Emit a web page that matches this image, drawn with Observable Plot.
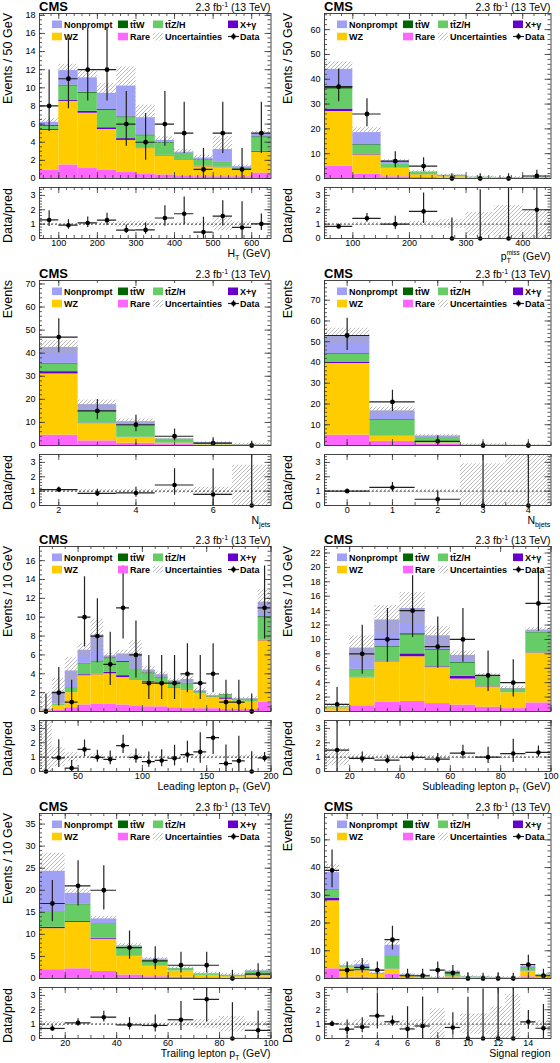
<!DOCTYPE html>
<html><head><meta charset="utf-8">
<script src="https://cdn.jsdelivr.net/npm/d3@7"></script>
<script src="https://cdn.jsdelivr.net/npm/@observablehq/plot@0.6"></script>
<style>
body{margin:0;background:#fff;}
#wrap{position:relative;width:560px;height:1063px;overflow:hidden;background:#fff;}
</style></head><body>
<svg width="0" height="0" style="position:absolute">
<defs>
<pattern id="hatch" patternUnits="userSpaceOnUse" width="4" height="4">
<path d="M-1,1 L1,-1 M0,4 L4,0 M3,5 L5,3" stroke="#aaa" stroke-width="0.8"/>
</pattern>
</defs></svg>
<div id="wrap"></div>
<script>
// ---------------- DATA ----------------
// H_T
const htEdges = [50,100,150,200,250,300,350,400,450,500,550,600,650];
const htRare = [0.9,1.5,1.1,0.9,0.7,0.5,0.4,0.3,0.2,0.2,0.2,0.6];
const htWZ   = [4.4,7.0,6.1,4.5,3.5,2.8,2.1,1.7,1.1,1.0,0.7,2.3];
const htXG   = [0.1,0.1,0.2,0.2,0.2,0.05,0.05,0.05,0.05,0.05,0,0.1];
const htTTZ  = [0.35,1.6,2.0,1.9,2.3,1.35,1.35,0.7,0.7,0.5,0.15,1.5];
const htTTW  = [0.1,0.1,0.1,0.1,0.1,0.1,0.1,0.05,0.05,0.05,0.05,0.1];
const htNP   = [0.35,1.6,1.6,1.8,3.4,1.9,0.2,0.1,0.15,1.4,0.2,0.3];
const htUnc  = [0.4,0.7,0.9,1.1,2.1,1.4,0.4,0.3,0.3,1.4,0.2,0.3];
const htData = [8,11,12,12,6,4,6,5,1,5,1,5];
// pT miss
const metEdges = [50,100,150,200,250,300,350,400,450];
const metRare = [5,1.7,0.7,0.4,0.2,0.1,0.05,0.1];
const metWZ   = [22,7.8,3.5,1.1,0.5,0.25,0.15,0.25];
const metXG   = [1,0.2,0.1,0.05,0.02,0,0,0];
const metTTZ  = [8,3.6,1.4,1.0,0.5,0.15,0.1,0.12];
const metTTW  = [1,0.3,0.1,0.05,0.04,0.02,0.02,0.02];
const metNP   = [7,4.9,1.2,0.05,0.04,0.03,0.03,0.01];
const metUnc  = [3,2,0.6,0.5,0.4,0.45,0.45,0.5];
const metData = [37,26,7,5,0,0,0,1];
// N jets
const njEdges = [1.5,2.5,3.5,4.5,5.5,6.5,7.5];
const njRare = [4.5,2,1,0.4,0.1,0.05];
const njWZ   = [26.5,7.5,2.5,0.6,0.2,0.05];
const njXG   = [1,0.2,0.1,0.05,0,0];
const njTTZ  = [3.3,5.0,4.8,1.6,0.6,0.15];
const njTTW  = [0.3,0.3,0.2,0.1,0.1,0.05];
const njNP   = [6.9,2.7,1.7,0.05,0.3,0.05];
const njUnc  = [3,2,1.2,0.4,0.35,0.63];
const njData = [47,15,9,4,1,0];
// N bjets
const nbEdges = [-0.5,0.5,1.5,2.5,3.5,4.5];
const nbRare = [5,2,0.8,0.05,0.02];
const nbWZ   = [34.5,2.5,0.4,0.05,0.03];
const nbXG   = [0.5,0.1,0.05,0,0];
const nbTTZ  = [4,7.6,2.45,0.1,0.03];
const nbTTW  = [0.3,0.3,0.1,0.03,0.01];
const nbNP   = [8.7,4.2,0.8,0.02,0.01];
const nbUnc  = [3.5,1.8,0.6,0.475,0.3];
const nbData = [53,21,2,0,0];
// Leading lepton pT
const lpEdges = [20,30,40,50,60,70,80,90,100,110,120,130,140,150,160,170,180,190,200];
const lpRare = [0.05,0.1,0.4,0.7,0.8,0.8,0.7,0.6,0.5,0.5,0.4,0.3,0.3,0.3,0.2,0.2,0.2,1.0];
const lpWZ   = [0.1,0.5,1.6,3.1,3.1,3.2,2.9,2.7,2.6,2.4,2.1,2.0,1.6,1.2,1.1,0.9,0.8,6.5];
const lpXG   = [0,0,0,0.1,0.05,0.15,0.2,0.05,0.1,0.05,0.05,0.05,0,0,0.15,0,0,0.05];
const lpTTZ  = [0.05,0.2,0.45,1.15,1.3,1.45,1.4,1.1,0.8,0.6,0.6,0.6,0.15,0.05,0.3,0.15,0.25,2.4];
const lpTTW  = [0,0,0.05,0.05,0.1,0.1,0.1,0.05,0.1,0.05,0.05,0.05,0.05,0.05,0.05,0.05,0.05,0.1];
const lpNP   = [0.05,1.3,1.8,1.4,2.75,0.2,0.8,1.6,0.3,0.3,0.05,0.4,0.1,0.1,0,0.05,0.05,1.55];
const lpUnc  = [1.8,1.4,1.4,0.7,1.7,0.3,0.4,1.4,0.4,0.3,0.25,0.4,0.3,0.2,0.15,0.15,0.2,1.3];
const lpData = [0,2,1,10,8,5,11,6,3,3,3,4,3,4,1,1,0,11];
// Subleading lepton pT
const slEdges = [10,20,30,40,50,60,70,80,90,100];
const slRare = [0.05,0.8,1.3,1.4,1.1,0.9,0.6,0.4,1.2];
const slWZ   = [0.45,3.9,5.6,6.2,5.0,3.6,2.8,2.2,6.9];
const slXG   = [0,0.05,0.1,0.4,0.1,0.4,0.05,0,0.05];
const slTTZ  = [0.15,1.05,1.9,2.6,2.3,1.8,1.4,0.5,2.75];
const slTTW  = [0.02,0.05,0.1,0.2,0.1,0.1,0.05,0.05,0.1];
const slNP   = [0,2.95,3.7,3.5,1.9,1.0,0.1,0.05,0.3];
const slUnc  = [0.4,1.7,2.0,2.2,1.3,0.6,0.25,0.3,0.35];
const slData = [1,8,10,14,9,10,5,4,15];
// Trailing lepton pT
const tlEdges = [10,20,30,40,50,60,70,80,90,100];
const tlRare = [2.0,2.2,1.6,0.8,0.4,0.3,0.2,0.1,0.3];
const tlWZ   = [9.3,10.5,7.3,4.2,2.4,1.4,0.5,0.3,0.5];
const tlXG   = [0.3,0.2,0.2,0.05,0.05,0,0,0,0];
const tlTTZ  = [3.4,3.8,3.2,2.1,1.3,0.5,0.3,0.3,0.8];
const tlTTW  = [0.1,0.1,0.1,0.05,0.05,0.05,0.03,0.02,0.05];
const tlNP   = [9.2,2.5,1.1,0.2,0.2,0.05,0.07,0.03,0.1];
const tlUnc  = [4.1,1.0,0.6,0.5,0.35,0.35,0.35,0.4,0.3];
const tlData = [17,21,20,7,4,3,3,0,1];
// Signal regions
const srEdges = [0.5,1.5,2.5,3.5,4.5,5.5,6.5,7.5,8.5,9.5,10.5,11.5,12.5,13.5,14.5,15.5];
const srRare = [3.5,0.5,0.5,0.3,1.5,0.3,0.2,0.1,0.3,0.1,0.1,0.05,0.05,0.6,0.3];
const srWZ   = [24.5,3.5,2.3,1.2,1.8,0.6,0.3,0.1,0.3,0.2,0.1,0.05,0.05,2.0,0.5];
const srXG   = [1,0.05,0.4,0.05,0.1,0.05,0.05,0,0.05,0,0,0,0,0.1,0];
const srTTZ  = [2.8,0.35,0.7,0.15,4.7,0.25,0.25,0.1,1.75,0.2,0.25,0.15,0.08,1.2,0.45];
const srTTW  = [0.2,0.05,0.1,0.05,0.1,0.05,0.05,0.02,0.1,0.05,0.05,0.03,0.02,0.1,0.05];
const srNP   = [6.2,0.15,1.0,0.15,3.8,0.25,0.3,0.03,0.1,0.1,0.05,0.07,0.05,0.3,0.1];
const srUnc  = [3,0.6,1.5,0.3,1.5,0.4,0.35,0.37,0.3,0.45,0.4,0.42,0.52,0.4,0.35];
const srData = [39,3,4,3,14,1,1,3,2,0,0,0,0,5,1];

// ---------------- STYLE / LAYOUT ----------------
const FONT = '"Liberation Sans", Arial, Helvetica, sans-serif';
const COL = {np:"#a0a0f5", ttw:"#006600", ttz:"#66cc66", xg:"#6600cc", wz:"#ffcc00", rare:"#ff66ff"};
const KEYS = ["rare","wz","xg","ttz","ttw","np"];
const W = 280, MAIN_H = 180, RATIO_H = 86, MT = 13, MB = 2, RT = 7, RB = 28, MR = 9.5;
const ROWH = 266.5;

const PANELS = [
 {col:0,row:0,edges:htEdges,rare:htRare,wz:htWZ,xg:htXG,ttz:htTTZ,ttw:htTTW,np:htNP,unc:htUnc,data:htData,
  xDomain:[50,650],xMajor:[100,200,300,400,500,600],xMinorStep:20,yMax:18.2,yStep:2,yMinorStep:0.5,
  ytitle:"Events / 50 GeV",xtitle:[["H"],["T","sub"],[" (GeV)"]],xtitleY:76.5},
 {col:1,row:0,edges:metEdges,rare:metRare,wz:metWZ,xg:metXG,ttz:metTTZ,ttw:metTTW,np:metNP,unc:metUnc,data:metData,
  xDomain:[50,450],xMajor:[100,200,300,400],xMinorStep:20,yMax:66.5,yStep:10,yMinorStep:2,
  ytitle:"Events / 50 GeV",xtitle:[["p"],["T","sub"],["miss","supover"],[" (GeV)"]],xtitleY:79.5},
 {col:0,row:1,edges:njEdges,rare:njRare,wz:njWZ,xg:njXG,ttz:njTTZ,ttw:njTTW,np:njNP,unc:njUnc,data:njData,
  xDomain:[1.5,7.5],xMajor:[2,4,6],xMinorStep:1,yMax:71.5,yStep:10,yMinorStep:2,
  ytitle:"Events",xtitle:[["N"],["jets","sub"]],xtitleY:76.5},
 {col:1,row:1,edges:nbEdges,rare:nbRare,wz:nbWZ,xg:nbXG,ttz:nbTTZ,ttw:nbTTW,np:nbNP,unc:nbUnc,data:nbData,
  xDomain:[-0.5,4.5],xMajor:[0,1,2,3,4],xMinorStep:0.5,yMax:79.5,yStep:10,yMinorStep:2,
  ytitle:"Events",xtitle:[["N"],["bjets","sub"]],xtitleY:76.5},
 {col:0,row:2,edges:lpEdges,rare:lpRare,wz:lpWZ,xg:lpXG,ttz:lpTTZ,ttw:lpTTW,np:lpNP,unc:lpUnc,data:lpData,
  xDomain:[20,200],xMajor:[50,100,150,200],xMinorStep:10,yMax:17.5,yStep:2,yMinorStep:0.5,
  ytitle:"Events / 10 GeV",xtitle:[["Leading lepton p"],["T","sub"],[" (GeV)"]],xtitleY:76.5},
 {col:1,row:2,edges:slEdges,rare:slRare,wz:slWZ,xg:slXG,ttz:slTTZ,ttw:slTTW,np:slNP,unc:slUnc,data:slData,
  xDomain:[10,100],xMajor:[20,40,60,80,100],xMinorStep:5,yMax:22.9,yStep:2,yMinorStep:0.5,
  ytitle:"Events / 10 GeV",xtitle:[["Subleading lepton p"],["T","sub"],[" (GeV)"]],xtitleY:76.5},
 {col:0,row:3,edges:tlEdges,rare:tlRare,wz:tlWZ,xg:tlXG,ttz:tlTTZ,ttw:tlTTW,np:tlNP,unc:tlUnc,data:tlData,
  xDomain:[10,100],xMajor:[20,40,60,80,100],xMinorStep:5,yMax:37.4,yStep:5,yMinorStep:1,
  ytitle:"Events / 10 GeV",xtitle:[["Trailing lepton p"],["T","sub"],[" (GeV)"]],xtitleY:76.5},
 {col:1,row:3,edges:srEdges,rare:srRare,wz:srWZ,xg:srXG,ttz:srTTZ,ttw:srTTW,np:srNP,unc:srUnc,data:srData,
  xDomain:[0.5,15.5],xMajor:[2,4,6,8,10,12,14],xMinorStep:1,yMax:59.5,yStep:10,yMinorStep:2,
  ytitle:"Events",xtitle:[["Signal region"]],xtitleY:76.5}
];

const wrap = document.getElementById("wrap");

function tickMarks(xMaj, xMin, yMaj, yMin, fw, fh) {
  const st = {stroke:"#333", strokeWidth:0.8};
  const maj = 6, mn = 3;
  return [
    Plot.tickY(yMaj, {y:d=>d, insetRight: fw-maj, ...st}),
    Plot.tickY(yMaj, {y:d=>d, insetLeft: fw-maj, ...st}),
    Plot.tickY(yMin, {y:d=>d, insetRight: fw-mn, ...st}),
    Plot.tickY(yMin, {y:d=>d, insetLeft: fw-mn, ...st}),
    Plot.tickX(xMaj, {x:d=>d, insetTop: fh-maj, ...st}),
    Plot.tickX(xMaj, {x:d=>d, insetBottom: fh-maj, ...st}),
    Plot.tickX(xMin, {x:d=>d, insetTop: fh-mn, ...st}),
    Plot.tickX(xMin, {x:d=>d, insetBottom: fh-mn, ...st})
  ];
}

function place(svg, x, y) {
  svg.style.position = "absolute";
  svg.style.left = x + "px";
  svg.style.top = y + "px";
  svg.style.maxWidth = "none";
  svg.style.overflow = "visible";
  svg.style.background = "transparent";
  wrap.appendChild(svg);
}

const STYLE = {fontFamily: FONT, fontSize: "9px", background: "transparent", color: "#000", overflow: "visible"};

function makePanel(p) {
  const L = p.col === 0 ? 39 : 44;
  const X0 = p.col * 280, Y0 = p.row * ROWH;
  const fw = W - L - MR, fhM = MAIN_H - MT - MB, fhR = RATIO_H - RT - RB;
  const bins = p.data.map((d, i) => {
    const b = {x1: p.edges[i], x2: p.edges[i+1], xc: (p.edges[i] + p.edges[i+1]) / 2, d, unc: p.unc[i]};
    let c = 0;
    for (const k of KEYS) { b[k+"0"] = c; c += p[k][i]; b[k+"1"] = c; }
    b.tot = c;
    b.dlo = d - Math.sqrt(d);
    b.dhi = d + Math.sqrt(d + 0.75) + 1;
    b.r = d / c; b.rlo = b.dlo / c; b.rhi = b.dhi / c;
    b.u0 = Math.max(0, 1 - b.unc / c); b.u1 = 1 + b.unc / c;
    return b;
  });
  const yMaj = d3.range(0, p.yMax + 1e-9, p.yStep);
  const yMin = d3.range(0, p.yMax, p.yMinorStep);
  const xMin = d3.range(Math.ceil(p.xDomain[0] / p.xMinorStep) * p.xMinorStep, p.xDomain[1] + 1e-9, p.xMinorStep);

  const marks = [];
  for (const k of KEYS) {
    marks.push(Plot.rect(bins, {x1:"x1", x2:"x2", y1: b => b[k+"0"], y2: b => b[k+"1"], fill: COL[k]}));
  }
  marks.push(
    Plot.rect(bins, {x1:"x1", x2:"x2", y1: b => Math.max(0, b.tot - b.unc), y2: b => b.tot + b.unc, fill:"url(#hatch)", clip:true}),
    Plot.ruleY(bins, {y:"d", x1:"x1", x2:"x2", stroke:"#222", strokeWidth:1.2, clip:true}),
    Plot.ruleX(bins, {x:"xc", y1:"dlo", y2:"dhi", stroke:"#222", strokeWidth:1.2, clip:true}),
    Plot.dot(bins, {x:"xc", y:"d", r:2.4, fill:"#000", stroke:"none"}),
    ...tickMarks(p.xMajor, xMin, yMaj, yMin, fw, fhM),
    Plot.frame({stroke:"#333", strokeWidth:0.9})
  );

  const main = Plot.plot({
    width: W, height: MAIN_H, marginLeft: L, marginRight: MR, marginTop: MT, marginBottom: MB,
    style: STYLE,
    x: {domain: p.xDomain, axis: null},
    y: {domain: [0, p.yMax], ticks: yMaj, tickSize: 0, tickPadding: 4, label: null},
    marks
  });
  place(main, X0, Y0);

  const s = d3.select(main);
  const g = s.append("g").attr("font-family", FONT).attr("fill", "#000").attr("text-anchor", "start");
  g.append("text").attr("x", L).attr("y", 10.5).attr("font-size", 13).attr("font-weight", "bold").text("CMS");
  const lumi = g.append("text").attr("x", W - MR).attr("y", 11).attr("text-anchor", "end").attr("font-size", 10.5);
  lumi.append("tspan").text("2.3 fb");
  lumi.append("tspan").attr("dy", -4).attr("font-size", 7).text("-1");
  lumi.append("tspan").attr("dy", 4).text(" (13 TeV)");
  g.append("text").attr("transform", `translate(12,${MT}) rotate(-90)`).attr("text-anchor", "end")
    .attr("font-size", 12.5).text(p.ytitle);

  // legend
  const items = [
    [13, 0, "np", "Nonprompt"], [79, 0, "ttw", "tt\u0304W"], [114, 0, "ttz", "tt\u0304Z/H"], [189, 0, "xg", "X+\u03b3"],
    [13, 1, "wz", "WZ"], [79, 1, "rare", "Rare"], [114, 1, "hatch", "Uncertainties"], [189, 1, "data", "Data"]
  ];
  const lg = g.append("g").attr("font-size", 9).attr("font-weight", "bold").attr("text-anchor", "start");
  for (const [dx, row, k, label] of items) {
    const x = L + dx, y = 20.5 + row * 12.2;
    if (k === "data") {
      lg.append("line").attr("x1", x).attr("x2", x + 11).attr("y1", y + 3.8).attr("y2", y + 3.8).attr("stroke", "#222").attr("stroke-width", 1.2);
      lg.append("line").attr("x1", x + 5.5).attr("x2", x + 5.5).attr("y1", y + 0.5).attr("y2", y + 7).attr("stroke", "#222").attr("stroke-width", 1.2);
      lg.append("circle").attr("cx", x + 5.5).attr("cy", y + 3.8).attr("r", 2.3).attr("fill", "#000");
    } else {
      lg.append("rect").attr("x", x).attr("y", y).attr("width", 10).attr("height", 7.6)
        .attr("fill", k === "hatch" ? "url(#hatch)" : COL[k]);
    }
    lg.append("text").attr("x", x + 12).attr("y", y + 7).text(label);
  }

  // ratio
  const rShown = bins.filter(b => b.r <= 3.55);
  const ratio = Plot.plot({
    width: W, height: RATIO_H, marginLeft: L, marginRight: MR, marginTop: RT, marginBottom: RB,
    style: STYLE,
    x: {domain: p.xDomain, ticks: p.xMajor, tickFormat: d => String(d), tickSize: 0, tickPadding: 1.2, label: null},
    y: {domain: [0, 3.55], ticks: [0,1,2,3], tickFormat: d => String(d), tickSize: 0, tickPadding: 4, label: null},
    marks: [
      Plot.rect(bins, {x1:"x1", x2:"x2", y1:"u0", y2:"u1", fill:"url(#hatch)", clip:true}),
      Plot.ruleY([1], {stroke:"#333", strokeWidth:0.9, strokeDasharray:"2,2"}),
      Plot.ruleY(rShown, {y:"r", x1:"x1", x2:"x2", stroke:"#222", strokeWidth:1.2, clip:true}),
      Plot.ruleX(bins, {x:"xc", y1:"rlo", y2:"rhi", stroke:"#222", strokeWidth:1.2, clip:true}),
      Plot.dot(rShown, {x:"xc", y:"r", r:2.3, fill:"#000", stroke:"none"}),
      ...tickMarks(p.xMajor, xMin, [0,1,2,3], d3.range(0, 3.55, 0.2), fw, fhR),
      Plot.frame({stroke:"#333", strokeWidth:0.9})
    ]
  });
  place(ratio, X0, Y0 + MAIN_H);
  const rs = d3.select(ratio).append("g").attr("font-family", FONT).attr("fill", "#000");
  rs.append("text").attr("transform", `translate(12,${RT + 1}) rotate(-90)`).attr("text-anchor", "end")
    .attr("font-size", 12.5).text("Data/pred");
  const size = 10.5;
  const t = rs.append("text").attr("x", W - MR).attr("y", p.xtitleY).attr("text-anchor", "end").attr("font-size", size);
  let shift = 0;
  for (const [str, kind] of p.xtitle) {
    const ts = t.append("tspan").text(str);
    let target = 0, fs = size;
    if (kind === "sub") { target = size * 0.3; fs = size * 0.7; }
    if (kind === "supover") { target = -size * 0.42; fs = size * 0.6; ts.attr("dx", -size * 0.7 * 0.61); }
    ts.attr("dy", target - shift).attr("font-size", fs);
    shift = target;
  }
}

PANELS.forEach(makePanel);
</script>
</body></html>
